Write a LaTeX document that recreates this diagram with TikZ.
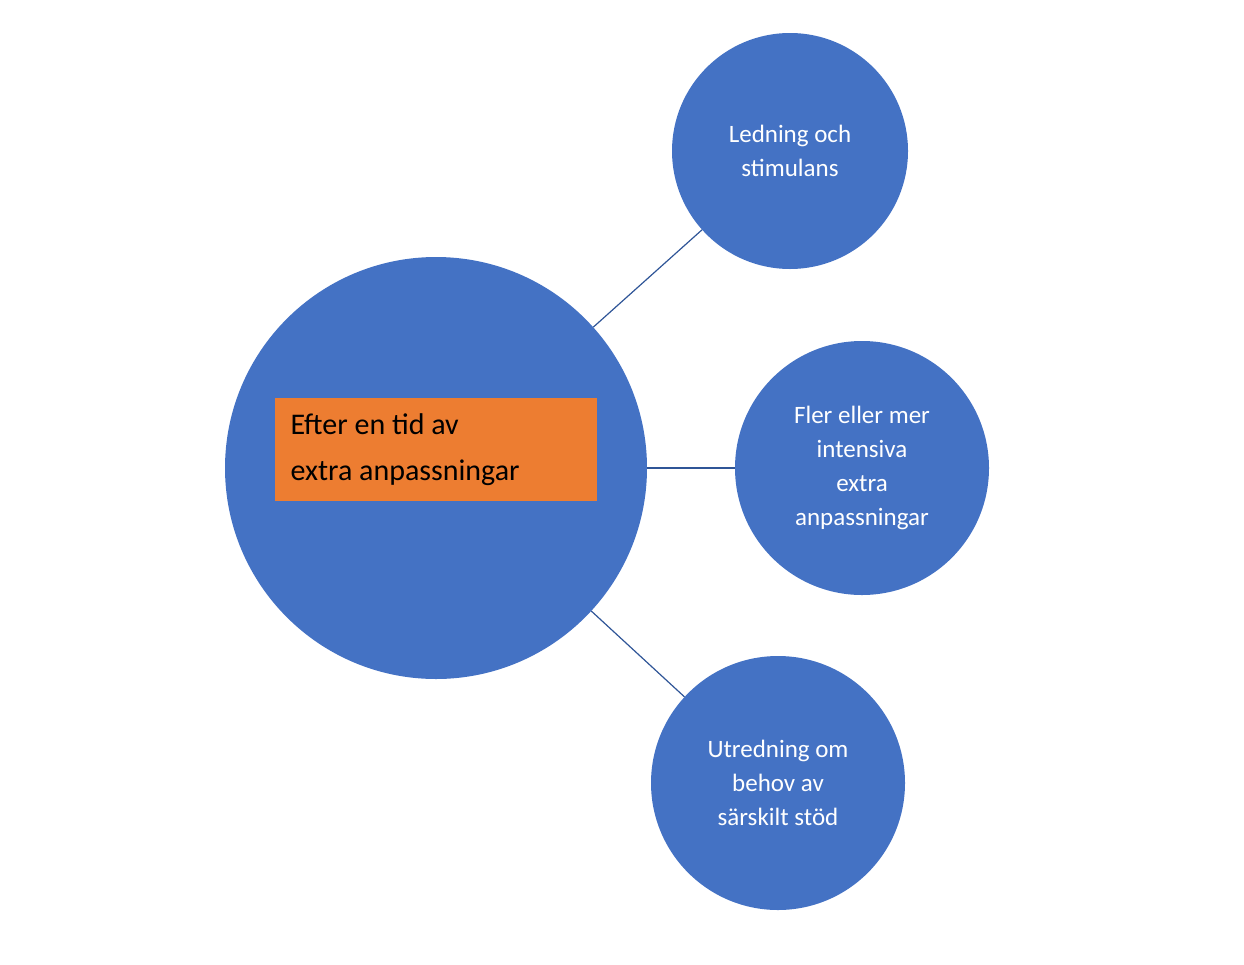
\documentclass[tikz,border=0pt]{standalone}
\usepackage{fontspec}
\setmainfont{Carlito}
\definecolor{cblue}{HTML}{4472C4}
\definecolor{corange}{HTML}{ED7D31}
\definecolor{lblue}{HTML}{2F5597}
\begin{document}
\begin{tikzpicture}[x=1pt,y=-1pt,
  circ/.style={circle,fill=cblue,inner sep=0pt,text=white,align=center,font=\fontsize{25}{34}\selectfont},
  conn/.style={draw=lblue,line width=1.2pt}]
\useasboundingbox (0,0) rectangle (1244,964);
\node[circ,minimum size=422pt] (big) at (436,468) {};
\node[fill=corange,minimum width=322pt,minimum height=103pt,inner sep=0pt] (lab) at (436,449.5) {};
\node[anchor=west,align=left,font=\fontsize{30}{46}\selectfont,text=black] (labt) at (287,449.5) {Efter en tid av\\extra anpassningar};
\node[circ,minimum size=236pt] (a) at (790,151) {Ledning och\\stimulans};
\node[circ,minimum size=254pt] (b) at (862,468) {Fler eller mer\\intensiva\\extra\\anpassningar};
\node[circ,minimum size=254pt] (c) at (778,783) {Utredning om\\behov av\\särskilt stöd};
\draw[conn] (big) -- (a);
\draw[conn] (big) -- (b);
\draw[conn] (big) -- (c);
\end{tikzpicture}
\end{document}
